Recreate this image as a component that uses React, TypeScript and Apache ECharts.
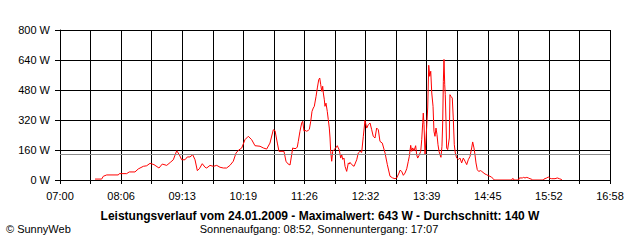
import React, { useEffect, useRef } from "react";
import * as echarts from "echarts";

// Minutes after 07:00 and power in watts
const powerMinutes = [
  38.1, 45.3, 47.1, 50.8, 63.4, 64.5, 72.5, 75.3, 81.5, 85.1, 90.6, 94.3, 97.9, 102.2, 107.6, 111.2, 116.0, 120.4, 123.2, 126.9,
  129.7, 132.3, 135.9, 138.4, 141.3, 144.3, 146.8, 149.3, 151.5, 154.7, 157.7,
  159.5, 163.1, 166.7, 170.4, 174.0, 177.6, 181.2, 184.8, 188.4, 191.4, 193.9, 197.6, 201.1, 204.7, 208.4, 212.0, 217.5, 221.0,
  224.7, 228.3, 231.9, 233.8, 236.3, 238.1, 243.5, 245.7, 247.6, 250.1,
  251.9, 253.0, 254.4, 256.6, 258.0, 259.1, 260.9, 262.8, 263.9, 265.3, 266.4, 268.2, 270.0, 271.1, 272.6, 274.0, 275.4, 276.5,
  278.4, 279.8, 281.3, 282.4, 283.5, 284.6, 285.6, 286.3, 287.4, 288.1, 289.2, 290.6, 291.7, 292.8, 293.6, 294.3, 295.4, 296.5,
  297.9, 299.8, 301.5, 302.6, 303.7, 305.2, 306.3, 307.4, 308.8, 309.9, 311.7, 313.5, 314.6,
  315.3, 317.2, 319.7, 322.6, 324.3, 326.2, 328.0, 329.8, 331.6, 333.5, 335.2, 337.1, 338.9, 340.6, 342.5, 344.3, 346.1, 347.9,
  350.4, 353.4, 355.9, 358.8, 361.7, 364.2, 366.1, 368.6,
  369.7, 371.5, 373.3, 375.1, 377.0, 378.7, 379.8, 381.3, 382.4, 383.5, 384.9, 386.7, 387.8, 388.9, 390.3, 392.2, 393.3, 394.4,
  395.0, 395.8, 396.9, 398.0, 399.8, 400.9, 402.0, 403.1, 404.2, 405.6, 406.6, 407.7, 408.8, 409.9, 411.0, 412.1, 413.2, 414.2,
  415.3, 416.1, 416.8, 417.5, 418.3, 418.9, 419.7, 420.4, 421.5, 423.3, 424.0, 425.1, 426.5, 427.6, 428.7, 429.8, 431.3, 433.1,
  434.9, 436.7, 438.5, 440.4, 442.2, 443.9, 445.8, 447.6, 448.7, 450.1, 451.2, 452.3, 453.7, 455.2, 457.4,
  458.5, 462.1, 464.0, 465.7, 467.5, 469.4, 471.1, 472.2,
  491.1, 491.8, 492.9, 493.6, 498.7, 499.4, 502.7, 503.8, 505.6, 507.5, 509.2, 511.0, 512.9, 513.5,
  525.5, 526.2, 529.2, 530.9, 532.8, 534.6, 538.2, 540.7, 542.9, 544.7, 545.8,
];
const powerWatts = [
  5, 5, 20, 27, 27, 34, 34, 43, 43, 59, 73, 76, 89, 82, 64, 85, 78, 96, 108, 156,
  135, 108, 108, 123, 123, 135, 108, 50, 60, 87, 68,
  64, 78, 73, 78, 68, 64, 64, 78, 100, 144, 158, 171, 215, 233, 215, 183, 180, 171,
  165, 197, 268, 263, 197, 153, 153, 100, 87, 80,
  135, 171, 168, 168, 176, 206, 260, 304, 313, 260, 265, 260, 265, 270, 313, 366, 384, 393,
  446, 491, 535, 544, 508, 473, 500, 464, 428, 393, 410, 366, 322, 277, 224, 153, 100, 153,
  162, 171, 183, 171, 160, 117, 135, 110, 117, 73, 46, 91, 85,
  94, 82, 73, 108, 144, 153, 147, 233, 318, 277, 295, 304, 268, 233, 224, 277, 268, 206,
  197, 144, 82, 20, 11, 7, 11, 37,
  52, 46, 25, 37, 60, 100, 126, 185, 153, 171, 156, 183, 135, 117, 130, 153, 215, 307,
  357, 295, 135, 224, 384, 612, 553, 580, 464, 393, 260, 233, 277, 242, 188, 153, 135, 121,
  180, 304, 526, 643, 508, 455, 313, 171, 162, 224, 455, 446, 437, 331, 188, 144, 117, 110,
  117, 91, 117, 100, 82, 108, 126, 171, 203, 171, 135, 91, 55, 46, 50,
  46, 32, 28, 23, 20, 14, 7, 0,
  0, 7, 7, 0, 0, 11, 11, 14, 11, 14, 11, 7, 4, 0,
  0, 5, 11, 16, 9, 7, 7, 11, 7, 4, 0,
];
const averageWatts = 140;
const xTickLabels = ["07:00", "08:06", "09:13", "10:19", "11:26", "12:32", "13:39", "14:45", "15:52", "16:58"];
const yTickValues = [0, 160, 320, 480, 640, 800];
const titleText = "Leistungsverlauf vom 24.01.2009 - Maximalwert: 643 W - Durchschnitt: 140 W";
const subtitleText = "Sonnenaufgang: 08:52, Sonnenuntergang: 17:07";
const creditText = "\u00A9 SunnyWeb";

const TOTAL_MINUTES = 598; // 07:00 .. 16:58
const GRID_STEPS = 18;
const STEP = TOTAL_MINUTES / GRID_STEPS;
const FONT = "'Liberation Sans', Arial, sans-serif";

export default function App() {
  const ref = useRef<HTMLDivElement>(null);
  useEffect(() => {
    if (!ref.current) return;
    const chart = echarts.init(ref.current, null, { renderer: "svg" });
    const data = powerMinutes.map((m, i) => [m / STEP, powerWatts[i]]);
    chart.setOption({
      animation: false,
      backgroundColor: "#ffffff",
      grid: { left: 60, right: 30, top: 30, bottom: 60, containLabel: false },
      xAxis: [
        {
          type: "value",
          min: 0,
          max: GRID_STEPS,
          interval: 1,
          axisLine: { show: true, lineStyle: { color: "#000", width: 1 } },
          axisTick: { show: true, length: 4, lineStyle: { color: "#000" } },
          splitLine: { show: true, lineStyle: { color: "#000", width: 1 } },
          axisLabel: {
            show: true,
            margin: 10,
            color: "#000",
            fontFamily: FONT,
            fontSize: 11,
            showMinLabel: true,
            showMaxLabel: true,
            formatter: (v: number) => {
              const k = Math.round(v);
              return k % 2 === 0 ? xTickLabels[k / 2] : "";
            },
          },
        },
        {
          type: "value",
          min: 0,
          max: GRID_STEPS,
          position: "bottom",
          z: 10,
          axisLine: { show: true, lineStyle: { color: "#000", width: 1 } },
          axisTick: { show: false },
          axisLabel: { show: false },
          splitLine: { show: false },
        },
      ],
      yAxis: {
        type: "value",
        min: yTickValues[0],
        max: yTickValues[yTickValues.length - 1],
        interval: yTickValues[1] - yTickValues[0],
        axisLine: { show: true, lineStyle: { color: "#000", width: 1 } },
        axisTick: { show: true, length: 5, lineStyle: { color: "#000" } },
        splitLine: { show: true, lineStyle: { color: "#000", width: 1 } },
        axisLabel: {
          margin: 10,
          color: "#000",
          fontFamily: FONT,
          fontSize: 11,
          formatter: (v: number) => `${v} W`,
        },
      },
      series: [
        {
          type: "line",
          data,
          xAxisIndex: 0,
          showSymbol: false,
          symbol: "none",
          lineStyle: { color: "#ff0000", width: 1 },
          itemStyle: { color: "#ff0000" },
          markLine: {
            silent: true,
            symbol: ["none", "none"],
            label: { show: false },
            lineStyle: { color: "#8c8c8c", width: 1, type: "solid" },
            data: [{ yAxis: averageWatts }],
          },
        },
      ],
      graphic: [
        {
          type: "text",
          x: 320,
          y: 216,
          style: {
            text: titleText,
            fill: "#000",
            font: `bold 12px ${FONT}`,
            textAlign: "center",
            textVerticalAlign: "middle",
          },
        },
        {
          type: "text",
          x: 319,
          y: 229,
          style: {
            text: subtitleText,
            fill: "#000",
            font: `11px ${FONT}`,
            textAlign: "center",
            textVerticalAlign: "middle",
          },
        },
        {
          type: "text",
          x: 6,
          y: 229,
          style: {
            text: creditText,
            fill: "#000",
            font: `11px ${FONT}`,
            textAlign: "left",
            textVerticalAlign: "middle",
          },
        },
      ],
    });
    return () => chart.dispose();
  }, []);
  return (
    <div
      ref={ref}
      style={{ position: "fixed", left: 0, top: 0, width: 640, height: 240, background: "#fff" }}
    />
  );
}
